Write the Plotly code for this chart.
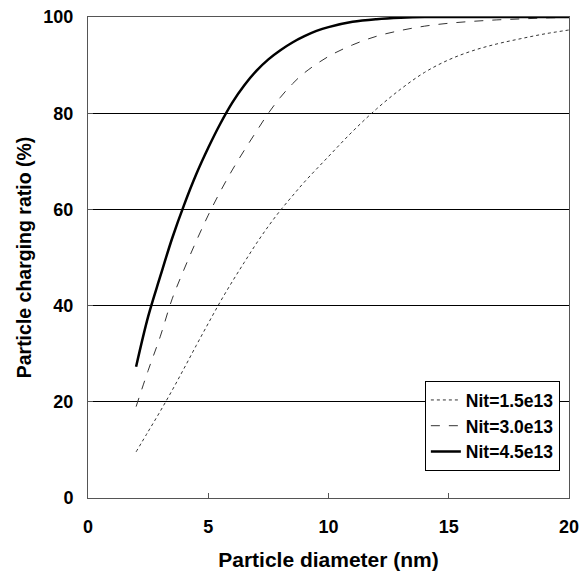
import plotly.graph_objects as go

# Particle diameter (nm)
d_low = [2, 2.5, 3, 3.5, 4, 4.5, 5, 5.5, 6, 6.5, 7, 7.5, 8, 8.5, 9, 10, 11, 12, 13, 14, 15, 16, 17, 18, 19, 20]
ratio_low = [9.6, 13.8, 18.0, 22.4, 27.0, 31.7, 36.3, 40.8, 45.0, 49.0, 52.9, 56.5, 59.8, 62.8, 65.7, 71.0, 76.2, 80.9, 85.0, 88.5, 91.1, 93.0, 94.4, 95.5, 96.5, 97.3]

d_mid = [2, 2.5, 3, 3.5, 4, 4.5, 5, 5.5, 6, 6.5, 7, 7.5, 8, 8.5, 9, 10, 11, 12, 13, 14, 15, 16, 17, 18, 19, 20]
ratio_mid = [19.0, 26.5, 33.5, 41.4, 47.6, 53.4, 58.8, 63.7, 68.2, 72.3, 76.2, 80.0, 83.3, 86.1, 88.4, 91.8, 94.2, 96.0, 97.2, 98.1, 98.7, 99.1, 99.4, 99.6, 99.8, 99.9]

d_high = [2, 2.5, 3, 3.5, 4, 4.5, 5, 5.5, 6, 6.5, 7, 7.5, 8, 8.5, 9, 9.5, 10, 11, 12, 13, 14, 16, 18, 20]
ratio_high = [27.3, 37.7, 46.0, 54.0, 61.0, 67.3, 72.8, 77.8, 82.2, 85.8, 88.8, 91.2, 93.1, 94.7, 96.0, 97.1, 97.9, 99.0, 99.55, 99.85, 100, 100, 100, 100]

series_names = ["Nit=1.5e13", "Nit=3.0e13", "Nit=4.5e13"]

x_ticks = [0, 5, 10, 15, 20]
y_ticks = [0, 20, 40, 60, 80, 100]

FONT = "Liberation Sans"

fig = go.Figure()
fig.add_trace(go.Scatter(x=d_low, y=ratio_low, mode="lines", name=series_names[0],
                         line=dict(color="#333333", width=1, dash="dot", shape="spline")))
fig.add_trace(go.Scatter(x=d_mid, y=ratio_mid, mode="lines", name=series_names[1],
                         line=dict(color="#333333", width=1, dash="dash", shape="spline")))
fig.add_trace(go.Scatter(x=d_high, y=ratio_high, mode="lines", name=series_names[2],
                         line=dict(color="black", width=2.5, shape="spline")))

fig.update_layout(
    width=588, height=571,
    margin=dict(l=88, r=19, t=17, b=73, autoexpand=False),
    paper_bgcolor="white", plot_bgcolor="white",
    font=dict(family=FONT, color="black"),
    legend=dict(
        x=0.981, y=0.056, xanchor="right", yanchor="bottom",
        bgcolor="white", bordercolor="black", borderwidth=1,
        font=dict(family=FONT, size=17.5, color="black", weight="bold"),
        itemwidth=30,
    ),
    xaxis=dict(
        range=[0, 20], tickvals=x_ticks, ticktext=[str(v) for v in x_ticks],
        showgrid=False, zeroline=False, automargin=False,
        showline=True, linecolor="#555555", linewidth=1, mirror=True,
        ticks="inside", ticklen=5, tickcolor="#555555",
        tickfont=dict(family=FONT, size=18, color="black", weight="bold"),
        ticklabelstandoff=12,
        title=dict(text="Particle diameter (nm)", standoff=17,
                   font=dict(family=FONT, size=21, color="black", weight="bold")),
    ),
    yaxis=dict(
        range=[0, 100], tickvals=y_ticks, ticktext=[str(v) for v in y_ticks],
        showgrid=True, gridcolor="black", gridwidth=1, zeroline=False, automargin=False,
        showline=True, linecolor="#555555", linewidth=1, mirror=True,
        ticks="inside", ticklen=5, tickcolor="#555555",
        tickfont=dict(family=FONT, size=18, color="black", weight="bold"),
        ticklabelstandoff=10,
        title=dict(text="Particle charging ratio (%)", standoff=6,
                   font=dict(family=FONT, size=19.5, color="black", weight="bold")),
    ),
)

fig.write_html("out.html")
